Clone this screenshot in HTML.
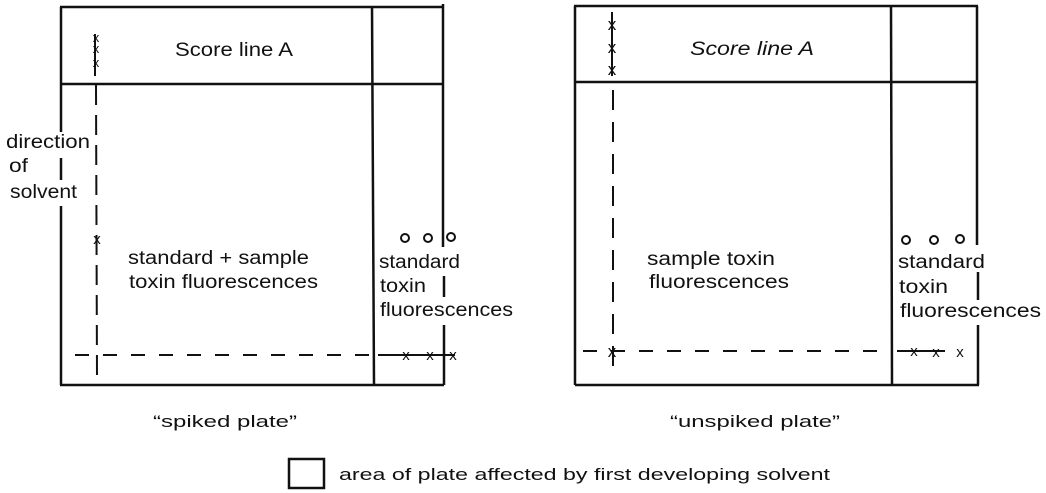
<!DOCTYPE html>
<html><head><style>
html,body{margin:0;padding:0;background:#fff;}
svg{display:block;}
text{font-family:"Liberation Sans",sans-serif;font-size:19px;fill:#111;}
</style></head><body>
<svg width="1046" height="493" viewBox="0 0 1046 493" xmlns="http://www.w3.org/2000/svg">
<g stroke="#111" stroke-width="2.5" fill="none">
<!-- left plate -->
<line x1="60" y1="7" x2="443" y2="7"/>
<line x1="60" y1="385" x2="444" y2="385"/>
<line x1="61" y1="7" x2="61" y2="132"/>
<line x1="61" y1="158" x2="61" y2="180"/>
<line x1="61" y1="206" x2="61" y2="385"/>
<line x1="60" y1="84" x2="443" y2="84"/>
<line x1="372" y1="7" x2="374" y2="385"/>
<line x1="443" y1="4" x2="443" y2="247"/>
<line x1="444" y1="276" x2="444" y2="297"/>
<line x1="444" y1="325" x2="444" y2="385"/>
<!-- right plate -->
<line x1="574" y1="6" x2="978" y2="6"/>
<line x1="575" y1="385" x2="979" y2="385"/>
<line x1="575" y1="6" x2="575" y2="385"/>
<line x1="574" y1="82" x2="978" y2="82"/>
<line x1="891" y1="6" x2="892" y2="385"/>
<line x1="977" y1="6" x2="977" y2="245"/>
<line x1="978" y1="272" x2="978" y2="300"/>
<line x1="978" y1="325" x2="978" y2="385"/>
<!-- legend box -->
<rect x="289" y="459" width="35" height="29" stroke-width="2.5"/>
</g>
<g stroke="#111" stroke-width="2" fill="none">
<line x1="96" y1="85" x2="97" y2="378" stroke-dasharray="20,10"/>
<line x1="75" y1="355" x2="372" y2="355" stroke-dasharray="14,14"/>
<line x1="95" y1="34" x2="95" y2="76"/>
<line x1="378" y1="355" x2="455" y2="355"/>
<line x1="612" y1="12" x2="612" y2="76"/>
<line x1="613" y1="90" x2="613" y2="373" stroke-dasharray="20,12"/>
<line x1="583" y1="351" x2="890" y2="351" stroke-dasharray="14,14"/>
<line x1="897" y1="351" x2="945" y2="351"/>
</g>
<g fill="#111" text-anchor="middle">
<text x="96" y="42" style="font-size:13px">x</text>
<text x="96" y="53" style="font-size:13px">x</text>
<text x="96" y="67" style="font-size:13px">x</text>
<text x="97" y="244" style="font-size:15px">x</text>
<text x="406" y="360" style="font-size:15px">x</text>
<text x="430" y="360" style="font-size:15px">x</text>
<text x="453" y="360" style="font-size:15px">x</text>
<text x="612" y="30" style="font-size:17px">x</text>
<text x="612" y="53" style="font-size:17px">x</text>
<text x="612" y="75" style="font-size:17px">x</text>
<text x="612" y="357" style="font-size:17px">x</text>
<text x="914" y="356" style="font-size:15px">x</text>
<text x="936" y="357" style="font-size:15px">x</text>
<text x="960" y="357" style="font-size:15px">x</text>
</g>
<g stroke="#111" stroke-width="2" fill="none">
<circle cx="405" cy="238" r="4"/><circle cx="428" cy="238" r="4"/><circle cx="451" cy="237" r="4"/>
<circle cx="906" cy="240" r="4"/><circle cx="934" cy="240" r="4"/><circle cx="960" cy="239" r="4"/>
</g>
<g lengthAdjust="spacingAndGlyphs">
<text x="175" y="56" textLength="118" lengthAdjust="spacingAndGlyphs">Score line A</text>
<text x="690" y="55" textLength="124" lengthAdjust="spacingAndGlyphs" style="font-style:italic">Score line A</text>
<text x="6" y="148" textLength="84" lengthAdjust="spacingAndGlyphs">direction</text>
<text x="9" y="172" textLength="19" lengthAdjust="spacingAndGlyphs">of</text>
<text x="10" y="198" textLength="67" lengthAdjust="spacingAndGlyphs">solvent</text>
<text x="128" y="264" textLength="181" lengthAdjust="spacingAndGlyphs">standard + sample</text>
<text x="129" y="288" textLength="189" lengthAdjust="spacingAndGlyphs">toxin fluorescences</text>
<text x="379" y="268" textLength="81" lengthAdjust="spacingAndGlyphs">standard</text>
<text x="380" y="292" textLength="46" lengthAdjust="spacingAndGlyphs">toxin</text>
<text x="380" y="316" textLength="133" lengthAdjust="spacingAndGlyphs">fluorescences</text>
<text x="647" y="265" textLength="128" lengthAdjust="spacingAndGlyphs">sample toxin</text>
<text x="649" y="288" textLength="140" lengthAdjust="spacingAndGlyphs">fluorescences</text>
<text x="898" y="268" textLength="87" lengthAdjust="spacingAndGlyphs">standard</text>
<text x="899" y="293" textLength="49" lengthAdjust="spacingAndGlyphs">toxin</text>
<text x="900" y="317" textLength="141" lengthAdjust="spacingAndGlyphs">fluorescences</text>
<text x="153" y="427" textLength="144" lengthAdjust="spacingAndGlyphs" style="font-size:17px">“spiked plate”</text>
<text x="670" y="427" textLength="170" lengthAdjust="spacingAndGlyphs" style="font-size:17px">“unspiked plate”</text>
<text x="339" y="480" textLength="491" lengthAdjust="spacingAndGlyphs" style="font-size:17px">area of plate affected by first developing solvent</text>
</g>
</svg>
</body></html>
